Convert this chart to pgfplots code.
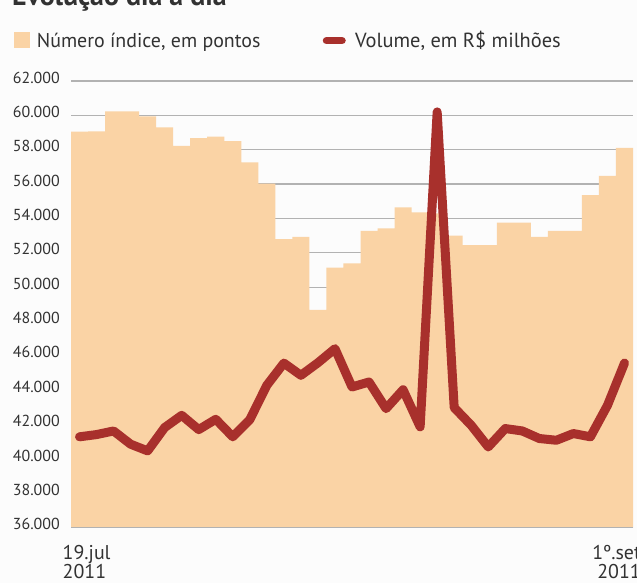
\documentclass[border=0pt]{standalone}
\usepackage{fontspec}
\setmainfont{PT Sans}
\usepackage{pgfplots}
\pgfplotsset{compat=1.18}
\definecolor{peach}{RGB}{250,211,165}
\definecolor{vol}{RGB}{168,48,44}
\definecolor{txt}{RGB}{50,50,50}
\definecolor{gridc}{RGB}{178,178,178}
\definecolor{bg}{RGB}{252,252,252}
\begin{document}
\begin{tikzpicture}[x=1bp,y=1bp]
\clip (0,0) rectangle (637,583);
\fill[bg] (0,0) rectangle (637,583);
\node[anchor=base west, inner sep=0, font=\fontsize{28}{28}\selectfont\bfseries, text=txt] at (12,577) {Evolução dia a dia};
% legend
\fill[peach] (14,534.7) rectangle (30,551.3);
\node[anchor=base west, inner sep=0, font=\fontsize{20}{20}\selectfont, text=txt] at (36.7,535) {Número índice, em pontos};
\draw[vol, line width=7.5bp, line cap=round] (326.5,542.3) -- (342,542.3);
\node[anchor=base west, inner sep=0, font=\fontsize{20.5}{20}\selectfont, text=txt] at (355,535) {Volume, em R\$ milhões};
\begin{axis}[
  at={(71bp,55.3bp)}, anchor=south west,
  scale only axis, width=562bp, height=446.7bp,
  xmin=0.5, xmax=33.5, ymin=36000, ymax=62000,
  ytick={36000,38000,...,62000}, xtick=\empty,
  scaled y ticks=false,
  ymajorgrids, grid style={gridc, line width=1.3bp},
  axis line style={draw=none}, major tick length=0pt,
  yticklabel style={font=\fontsize{16}{16}\selectfont, text=txt, anchor=east, inner sep=0pt, xshift=-11bp, yshift=3.5bp},
  /pgf/number format/.cd, 1000 sep={.}, assume math mode=true
]
\addplot[fill=peach, draw=none, const plot] coordinates {
(0.5,59050) (1.5,59070) (2.5,60230) (3.5,60230) (4.5,59940) (5.5,59300)
(6.5,58230) (7.5,58680) (8.5,58760) (9.5,58500) (10.5,57260) (11.5,56020)
(12.5,52790) (13.5,52930) (14.5,48680) (15.5,51130) (16.5,51380) (17.5,53280)
(18.5,53420) (19.5,54640) (20.5,54350) (21.5,54300) (22.5,53000) (23.5,52450)
(24.5,52450) (25.5,53750) (26.5,53750) (27.5,52930) (28.5,53280) (29.5,53280)
(30.5,55350) (31.5,56480) (32.5,58100) (33.5,58100)
} \closedcycle;
\addplot[vol, line width=9bp, line join=round, line cap=round, mark=none] coordinates {
(1,41290) (2,41420) (3,41630) (4,40860) (5,40470) (6,41830) (7,42540)
(8,41710) (9,42310) (10,41290) (11,42290) (12,44290) (13,45580) (14,44870)
(15,45600) (16,46420) (17,44190) (18,44480) (19,42930) (20,44030) (21,41870)
(22,60200) (23,42990) (24,41960) (25,40700) (26,41770) (27,41630) (28,41190)
(29,41090) (30,41480) (31,41290) (32,43120) (33,45580)
};
\end{axis}
\draw[gridc, line width=1.3bp] (71,55.3) -- (633,55.3);
\node[anchor=north west, align=left, inner sep=0, font=\fontsize{20}{19}\selectfont, text=txt] at (62.5,38) {19.jul\\2011};
\node[anchor=north east, align=right, inner sep=0, font=\fontsize{20}{19}\selectfont, text=txt] at (641,38) {1º.set\\2011};
\end{tikzpicture}
\end{document}
